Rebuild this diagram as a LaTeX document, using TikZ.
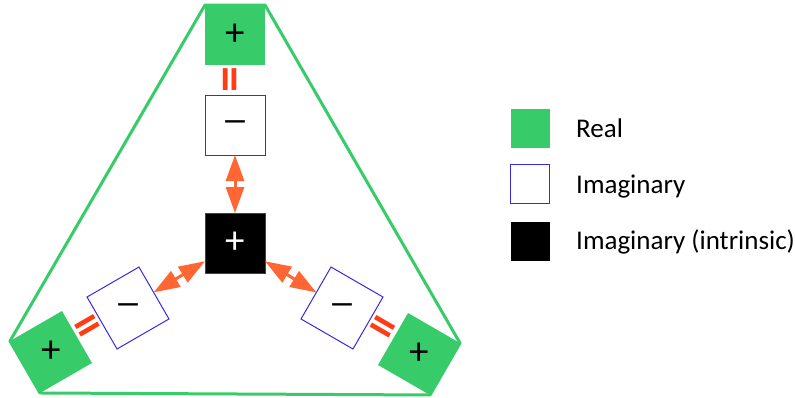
\documentclass[tikz,border=0pt]{standalone}
\usepackage{fontspec}
\setmainfont{Carlito}
\usetikzlibrary{arrows.meta,calc}
\definecolor{realgreen}{RGB}{55,203,105}
\definecolor{imagblue}{RGB}{60,40,225}
\definecolor{arrorange}{RGB}{255,102,51}
\definecolor{eqred}{RGB}{255,60,20}
\tikzset{
  x=1pt,y=-1pt,
  sq/.style={minimum size=60pt,inner sep=0pt,outer sep=0pt},
  realsq/.style={sq,fill=realgreen},
  imagsq/.style={sq,fill=white,draw=imagblue,line width=1pt},
  intrsq/.style={sq,fill=black,draw=imagblue,line width=1pt},
  sym/.style={inner sep=0pt,font=\fontsize{39}{42}\selectfont},
  minsym/.style={inner sep=0pt,font=\fontsize{27}{30}\selectfont\bfseries},
  eqsign/.style={inner sep=0pt,text=eqred,font=\fontsize{52}{56}\selectfont\bfseries},
  dblarr/.style={draw=arrorange,line width=3pt,{Triangle[length=26pt,width=18pt,fill=arrorange]}-{Triangle[length=26pt,width=18pt,fill=arrorange]}},
  outline/.style={draw=realgreen,line width=3pt,line join=round},
  legsq/.style={minimum size=39pt,inner sep=0pt,outer sep=0pt},
  legtext/.style={anchor=base west,inner sep=0pt,font=\fontsize{27}{30}\selectfont}
}
\begin{document}
\begin{tikzpicture}
\useasboundingbox (0,0) rectangle (795,397);
% squares (shapes only)
\node[realsq] (tg) at (235,35) {};
\node[imagsq] (ti) at (235,125) {};
\node[intrsq] (c) at (235,243) {};
\node[realsq,rotate=30] (blg) at (51,352) {};
\node[imagsq,rotate=30] (bli) at (128,308) {};
\node[realsq,rotate=-30] (brg) at (419,354) {};
\node[imagsq,rotate=-30] (bri) at (342,308) {};
% outline
\draw[outline] (tg.north west) -- (tg.north east) -- (brg.north east) -- (brg.south east)
  -- (blg.south west) -- (blg.north west) -- cycle;
\node[realsq] at (tg.center) {};
% symbols
\node[sym] (tgs) at (tg.center) {+};
\node[minsym] (tis) at (ti.center) {—};
\node[sym,text=white] (cs) at (c.center) {+};
\node[sym] (blgs) at (blg.center) {+};
\node[minsym] (blis) at (bli.center) {—};
\node[sym] (brgs) at (brg.center) {+};
\node[minsym] (bris) at (bri.center) {—};
% equal signs
\node[eqsign,rotate=90] (teq) at ($(tg)!0.5!(ti)$) {=};
\node[eqsign,rotate=30] (bleq) at ($(blg)!0.5!(bli)$) {=};
\node[eqsign,rotate=-30] (breq) at ($(brg)!0.5!(bri)$) {=};
% arrows
\draw[dblarr] (ti) -- (c);
\draw[dblarr] (bli) -- (c);
\draw[dblarr] (bri) -- (c);
% legend
\node[legsq,fill=realgreen] (lg) at (530,128) {};
\node[legsq,fill=white,draw=imagblue,line width=1pt] (li) at (530,184) {};
\node[legsq,fill=black] (lb) at (530,241) {};
\node[legtext] (lgt) at (576,137) {Real};
\node[legtext] (lit) at (576,193) {Imaginary};
\node[legtext] (lbt) at (576,249) {Imaginary (intrinsic)};
\end{tikzpicture}
\end{document}
